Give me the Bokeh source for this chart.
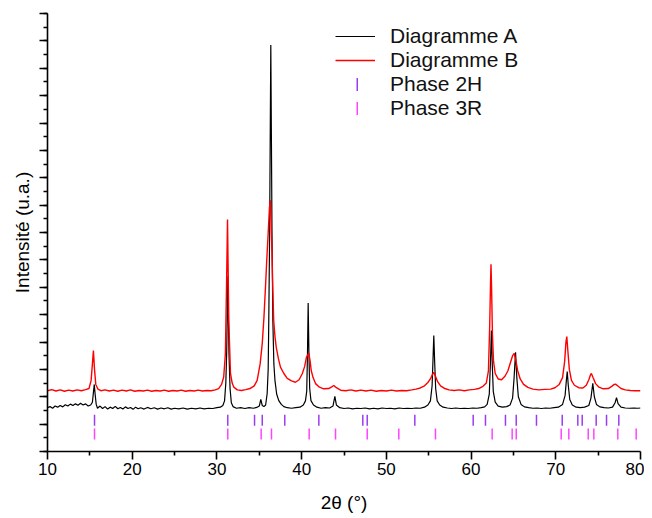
import math
from bokeh.plotting import figure
from bokeh.models import (Range1d, SingleIntervalTicker, FixedTicker, Legend, LegendItem)
from bokeh.embed import file_html
from bokeh.resources import INLINE

# ---------------- data ----------------
# Diagramme A (black): (2theta, intensity in arbitrary units; 1 unit = one major y tick)
diag_a = [
    (10.0, 1.60), (10.3, 1.64), (10.6, 1.58), (10.9, 1.66), (11.2, 1.62), (11.5, 1.68),
    (11.8, 1.63), (12.1, 1.71), (12.4, 1.66), (12.7, 1.73), (13.0, 1.68), (13.3, 1.74),
    (13.6, 1.69), (13.9, 1.76), (14.2, 1.70), (14.5, 1.74), (14.8, 1.66), (15.1, 1.70),
    (15.3, 1.80), (15.42, 2.15), (15.52, 2.45), (15.62, 2.10), (15.75, 1.72), (15.9, 1.58),
    (16.2, 1.66), (16.5, 1.57), (16.8, 1.64), (17.1, 1.55), (17.4, 1.62), (17.7, 1.57),
    (18.0, 1.65), (18.3, 1.56), (18.6, 1.61), (18.9, 1.55), (19.2, 1.63), (19.5, 1.57),
    (19.8, 1.61), (20.1, 1.54), (20.4, 1.62), (20.7, 1.56), (21.0, 1.60), (21.4, 1.55),
    (21.8, 1.61), (22.2, 1.56), (22.6, 1.60), (23.0, 1.55), (23.4, 1.59), (23.8, 1.56),
    (24.2, 1.60), (24.6, 1.55), (25.0, 1.58), (25.5, 1.56), (26.0, 1.59), (26.5, 1.55),
    (27.0, 1.58), (27.5, 1.56), (28.0, 1.59), (28.5, 1.56), (29.0, 1.58), (29.5, 1.57),
    (30.0, 1.60), (30.4, 1.62), (30.7, 1.68), (30.9, 1.85), (31.05, 2.50), (31.15, 3.60),
    (31.29, 6.40), (31.42, 3.60), (31.55, 2.30), (31.7, 1.78), (31.9, 1.64), (32.3, 1.58),
    (32.8, 1.60), (33.3, 1.57), (33.8, 1.60), (34.3, 1.58), (34.7, 1.61), (35.0, 1.66),
    (35.18, 1.90), (35.35, 1.68), (35.55, 1.64), (35.75, 1.70), (35.93, 2.12), (36.05, 3.00),
    (36.12, 4.79), (36.22, 8.00), (36.29, 11.5), (36.36, 14.85), (36.43, 11.5), (36.5, 8.00),
    (36.6, 4.79), (36.72, 3.20), (36.85, 2.60), (37.05, 2.10), (37.3, 1.86), (37.6, 1.72),
    (37.9, 1.64), (38.3, 1.60), (38.8, 1.58), (39.3, 1.60), (39.8, 1.62), (40.2, 1.70),
    (40.45, 1.85), (40.6, 2.20), (40.69, 3.58), (40.77, 5.42), (40.86, 3.58), (40.95, 2.30),
    (41.1, 1.86), (41.4, 1.70), (41.8, 1.62), (42.3, 1.58), (42.8, 1.60), (43.3, 1.59),
    (43.7, 1.66), (43.92, 2.01), (44.1, 1.70), (44.5, 1.60), (45.0, 1.57), (45.5, 1.59),
    (46.0, 1.56), (46.5, 1.58), (47.0, 1.57), (47.5, 1.59), (48.0, 1.56), (48.5, 1.58),
    (49.0, 1.56), (49.5, 1.59), (50.0, 1.57), (50.5, 1.58), (51.0, 1.56), (51.5, 1.59),
    (52.0, 1.57), (52.5, 1.58), (53.0, 1.57), (53.5, 1.59), (54.0, 1.58), (54.5, 1.62),
    (54.9, 1.70), (55.2, 1.85), (55.4, 2.40), (55.5, 3.30), (55.6, 4.24), (55.7, 3.30),
    (55.82, 2.30), (56.0, 1.85), (56.3, 1.70), (56.7, 1.62), (57.2, 1.59), (57.7, 1.57),
    (58.2, 1.59), (58.7, 1.57), (59.2, 1.58), (59.7, 1.57), (60.2, 1.59), (60.7, 1.58),
    (61.2, 1.60), (61.6, 1.63), (61.9, 1.72), (62.15, 2.10), (62.28, 3.20), (62.4, 4.42),
    (62.5, 3.20), (62.62, 2.20), (62.85, 1.80), (63.2, 1.66), (63.7, 1.62), (64.2, 1.64),
    (64.6, 1.70), (64.9, 1.95), (65.08, 2.70), (65.25, 3.62), (65.4, 2.70), (65.58, 2.00),
    (65.9, 1.72), (66.3, 1.63), (66.8, 1.60), (67.3, 1.58), (67.8, 1.59), (68.3, 1.57),
    (68.8, 1.59), (69.3, 1.58), (69.8, 1.60), (70.3, 1.62), (70.8, 1.72), (71.1, 2.05),
    (71.25, 2.60), (71.35, 2.92), (71.48, 2.40), (71.65, 1.90), (71.95, 1.70), (72.4, 1.62),
    (72.9, 1.60), (73.4, 1.62), (73.9, 1.68), (74.15, 1.95), (74.37, 2.49), (74.55, 2.00),
    (74.8, 1.72), (75.2, 1.63), (75.7, 1.60), (76.2, 1.59), (76.7, 1.62), (77.0, 1.78),
    (77.17, 1.97), (77.35, 1.75), (77.7, 1.62), (78.2, 1.59), (78.7, 1.58), (79.2, 1.59),
    (79.7, 1.58), (80.0, 1.59),
]

# Diagramme B (red)
diag_b = [
    (10.0, 2.22), (10.5, 2.26), (11.0, 2.21), (11.5, 2.25), (12.0, 2.20), (12.5, 2.24),
    (13.0, 2.21), (13.5, 2.25), (14.0, 2.22), (14.5, 2.26), (14.9, 2.30), (15.15, 2.60),
    (15.3, 3.20), (15.42, 3.69), (15.55, 3.00), (15.7, 2.45), (15.95, 2.28), (16.3, 2.22),
    (16.8, 2.25), (17.3, 2.21), (17.8, 2.24), (18.3, 2.20), (18.8, 2.24), (19.3, 2.21),
    (19.8, 2.25), (20.3, 2.20), (20.8, 2.23), (21.3, 2.21), (21.8, 2.24), (22.3, 2.20),
    (22.8, 2.23), (23.3, 2.21), (23.8, 2.24), (24.3, 2.20), (24.8, 2.23), (25.3, 2.21),
    (25.8, 2.24), (26.3, 2.20), (26.8, 2.23), (27.3, 2.21), (27.8, 2.24), (28.3, 2.21),
    (28.8, 2.23), (29.3, 2.22), (29.8, 2.25), (30.2, 2.30), (30.55, 2.45), (30.8, 2.72),
    (31.0, 3.58), (31.13, 6.00), (31.25, 8.47), (31.4, 4.79), (31.6, 2.85), (31.8, 2.50),
    (32.0, 2.35), (32.4, 2.25), (32.9, 2.23), (33.4, 2.26), (33.9, 2.30), (34.4, 2.40),
    (34.75, 2.60), (35.1, 3.20), (35.35, 3.95), (35.55, 4.90), (35.73, 6.00), (35.9, 7.10),
    (36.05, 7.97), (36.2, 8.90), (36.3, 9.18), (36.4, 8.30), (36.5, 7.24), (36.6, 5.90),
    (36.7, 4.79), (36.85, 4.20), (37.0, 3.81), (37.25, 3.40), (37.5, 3.08), (37.9, 2.85),
    (38.3, 2.67), (38.8, 2.58), (39.27, 2.53), (39.7, 2.62), (40.07, 2.84), (40.35, 3.10),
    (40.57, 3.45), (40.85, 3.59), (41.0, 3.30), (41.13, 2.96), (41.35, 2.70), (41.64, 2.48),
    (42.1, 2.35), (42.6, 2.29), (43.2, 2.30), (43.55, 2.36), (43.8, 2.41), (44.1, 2.33),
    (44.6, 2.24), (45.2, 2.22), (45.8, 2.25), (46.4, 2.21), (47.0, 2.24), (47.6, 2.21),
    (48.2, 2.24), (48.8, 2.20), (49.4, 2.23), (50.0, 2.21), (50.6, 2.24), (51.2, 2.21),
    (51.8, 2.23), (52.4, 2.22), (53.0, 2.25), (53.5, 2.28), (54.0, 2.32), (54.5, 2.40),
    (54.9, 2.52), (55.2, 2.65), (55.45, 2.82), (55.6, 2.89), (55.8, 2.75), (56.05, 2.55),
    (56.4, 2.40), (56.9, 2.30), (57.4, 2.25), (58.0, 2.23), (58.6, 2.25), (59.2, 2.22),
    (59.8, 2.25), (60.4, 2.27), (60.9, 2.30), (61.4, 2.38), (61.8, 2.50), (62.05, 2.95),
    (62.2, 4.60), (62.3, 6.20), (62.35, 6.84), (62.42, 6.00), (62.52, 4.30), (62.65, 3.30),
    (62.85, 2.85), (63.2, 2.65), (63.6, 2.62), (64.0, 2.75), (64.35, 2.95), (64.65, 3.25),
    (64.9, 3.50), (65.1, 3.58), (65.3, 3.30), (65.5, 2.95), (65.8, 2.65), (66.2, 2.45),
    (66.7, 2.34), (67.3, 2.28), (68.0, 2.25), (68.7, 2.27), (69.4, 2.28), (69.9, 2.33),
    (70.4, 2.45), (70.8, 2.70), (71.05, 3.30), (71.2, 4.00), (71.3, 4.20), (71.42, 3.70),
    (71.6, 3.00), (71.85, 2.60), (72.2, 2.42), (72.7, 2.33), (73.2, 2.32), (73.6, 2.42),
    (73.9, 2.62), (74.1, 2.80), (74.2, 2.85), (74.4, 2.70), (74.7, 2.48), (75.1, 2.35),
    (75.6, 2.29), (76.2, 2.30), (76.6, 2.38), (76.9, 2.45), (77.05, 2.46), (77.3, 2.40),
    (77.7, 2.30), (78.2, 2.25), (78.8, 2.23), (79.4, 2.22), (80.0, 2.22),
]

# Reference reflection positions (2theta)
phase_2h = [15.55, 31.28, 34.44, 35.35, 38.01, 42.03, 47.22, 47.74, 53.36, 60.25,
            61.70, 64.06, 65.33, 67.72, 70.76, 72.60, 73.12, 74.77, 75.99, 77.44]
phase_3r = [15.55, 31.28, 35.22, 36.44, 40.89, 44.00, 47.74, 51.47, 55.80, 62.49,
            64.85, 65.33, 70.64, 71.54, 73.83, 74.49, 77.32, 79.49]

x_ticks = [10, 20, 30, 40, 50, 60, 70, 80]
x_minor = [15, 25, 35, 45, 55, 65, 75]
labels = ["Diagramme A", "Diagramme B", "Phase 2H", "Phase 3R"]

# ---------------- style ----------------
FONT = "Liberation Sans"
Y_2H = 1.14    # vertical centre of the 2H marker row
Y_3R = 0.64    # vertical centre of the 3R marker row
C_2H = "#9b3cf5"
C_3R = "#ff44ff"

p = figure(width=644, height=518, output_backend="svg", toolbar_location=None,
           x_range=Range1d(10, 80), y_range=Range1d(0, 16),
           min_border_left=47, min_border_right=4, min_border_top=13, min_border_bottom=67)
p.outline_line_color = None
p.xgrid.visible = False
p.ygrid.visible = False

ax, ay = zip(*diag_a)
bx, by = zip(*diag_b)
ra = p.line(list(ax), list(ay), line_color="black", line_width=1.2)
rb = p.line(list(bx), list(by), line_color="#ff0000", line_width=1.4)

p.scatter(x=phase_2h, y=[Y_2H] * len(phase_2h), marker="dash", size=11,
          angle=math.pi / 2, line_color=C_2H, line_width=1.5)
p.scatter(x=phase_3r, y=[Y_3R] * len(phase_3r), marker="dash", size=11,
          angle=math.pi / 2, line_color=C_3R, line_width=1.5)

# legend-only proxies: a single-point line draws nothing on the plot, but its
# legend glyph (very short and very thick) looks like a vertical tick
k2h = p.line(x=phase_2h[:1], y=[Y_2H], line_color=C_2H, line_width=13)
k3r = p.line(x=phase_3r[:1], y=[Y_3R], line_color=C_3R, line_width=13)

def style_legend(lg):
    lg.background_fill_alpha = 0
    lg.border_line_color = None
    lg.padding = 0
    lg.margin = 0
    lg.spacing = 0
    lg.glyph_height = 24
    lg.label_height = 24
    lg.label_text_font = FONT
    lg.label_text_font_size = "21px"
    lg.label_text_color = "#111111"

leg1 = Legend(items=[LegendItem(label=labels[0], renderers=[ra]),
                     LegendItem(label=labels[1], renderers=[rb])],
              location=(288, 379))
style_legend(leg1)
leg1.glyph_width = 40
leg1.label_standoff = 15
p.add_layout(leg1)

leg2 = Legend(items=[LegendItem(label=labels[2], renderers=[k2h]),
                     LegendItem(label=labels[3], renderers=[k3r])],
              location=(309, 331))
style_legend(leg2)
leg2.glyph_width = 2
leg2.label_standoff = 32
p.add_layout(leg2)

# x axis
xa = p.xaxis[0]
xa.ticker = FixedTicker(ticks=x_ticks, minor_ticks=x_minor)
xa.axis_label = "2θ (°)"
xa.axis_label_text_font = FONT
xa.axis_label_text_font_style = "normal"
xa.axis_label_text_font_size = "19px"
xa.axis_label_standoff = 14
xa.major_label_text_font = FONT
xa.major_label_text_font_size = "17px"
xa.major_label_standoff = 3

# y axis
ya = p.yaxis[0]
ya.ticker = SingleIntervalTicker(interval=1, num_minor_ticks=2)
ya.major_label_text_font_size = "0px"
ya.major_label_standoff = 0
ya.axis_label = "Intensité (u.a.)"
ya.axis_label_text_font = FONT
ya.axis_label_text_font_style = "normal"
ya.axis_label_text_font_size = "19px"
ya.axis_label_standoff = 7

for axis in (xa, ya):
    axis.axis_line_width = 1.6
    axis.axis_line_color = "black"
    axis.major_tick_line_width = 1.6
    axis.minor_tick_line_width = 1.6
    axis.major_tick_line_color = "black"
    axis.minor_tick_line_color = "black"
    axis.major_tick_out = 8
    axis.major_tick_in = 0
    axis.minor_tick_out = 4
    axis.minor_tick_in = 0
    axis.major_label_text_color = "black"
    axis.axis_label_text_color = "black"

open("out.html", "w").write(file_html(p, INLINE))
